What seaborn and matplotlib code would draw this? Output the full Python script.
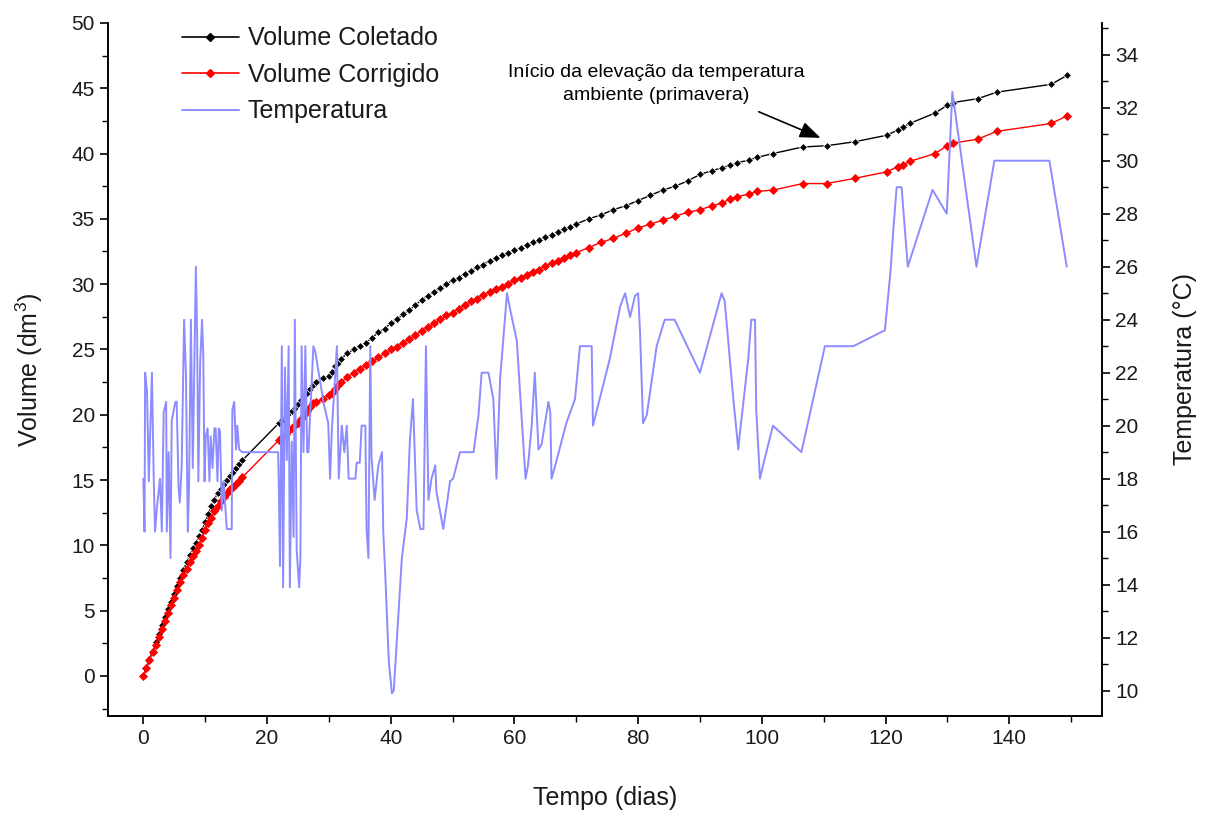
import matplotlib
matplotlib.use("Agg")
import matplotlib.pyplot as plt
from matplotlib.ticker import MultipleLocator
from matplotlib.lines import Line2D
import seaborn as sns
import numpy as np

# ---------------- data ----------------
vol_days = [0, 0.5, 1, 1.5, 2, 2.5, 3, 3.5, 4, 4.5, 5, 5.5, 6, 6.5, 7, 7.5, 8, 8.5, 9, 9.5,
            10, 10.5, 11, 11.5, 12, 12.5, 13, 13.5, 14, 14.5, 15, 15.5, 16,
            22, 22.5, 23, 23.5, 24, 24.5, 25, 25.5, 26, 26.5, 27, 27.5, 28, 29, 30, 30.5, 31, 31.5,
            32, 33, 34, 35, 36, 37, 38, 39, 40, 41, 42, 43, 44, 45, 46, 47, 48, 49, 50,
            51, 52, 53, 54, 55, 56, 57, 58, 59, 60, 61, 62, 63, 64, 65, 66, 67, 68, 69, 70,
            72, 74, 76, 78, 80, 82, 84, 86, 88, 90, 92, 93.5, 94.8, 96, 98, 99.2, 101.8,
            106.6, 110.5, 115, 120.2, 122, 122.8, 123.9, 128, 130, 130.9, 134.9, 138, 146.8, 149.4]

vol_coletado = [0, 0.6, 1.3, 1.9, 2.6, 3.2, 3.9, 4.5, 5.1, 5.7, 6.3, 6.9, 7.5, 8.1, 8.7, 9.3, 9.8, 10.2, 10.7, 11.2,
                11.8, 12.4, 13.0, 13.5, 14.0, 14.3, 14.7, 15.0, 15.3, 15.6, 15.9, 16.2, 16.5,
                19.4, 19.6, 19.8, 20.1, 20.3, 20.5, 20.8, 21.1, 21.4, 21.7, 22.0, 22.3, 22.5, 22.8, 23.0, 23.3, 23.7, 24.0,
                24.3, 24.7, 25.0, 25.3, 25.5, 25.9, 26.3, 26.6, 27.0, 27.3, 27.7, 28.0, 28.4, 28.8, 29.1, 29.4, 29.7, 30.0, 30.3,
                30.5, 30.8, 31.0, 31.3, 31.5, 31.8, 32.0, 32.2, 32.4, 32.6, 32.8, 33.0, 33.2, 33.4, 33.6, 33.8, 34.0, 34.2, 34.4, 34.6,
                35.0, 35.3, 35.7, 36.0, 36.4, 36.8, 37.2, 37.5, 37.9, 38.4, 38.7, 38.9, 39.1, 39.3, 39.5, 39.7, 40.0,
                40.5, 40.6, 40.9, 41.4, 41.8, 42.0, 42.3, 43.1, 43.7, 43.9, 44.2, 44.7, 45.3, 46.0]

vol_corrigido = [0, 0.6, 1.2, 1.8, 2.4, 3.0, 3.6, 4.2, 4.8, 5.4, 6.0, 6.6, 7.2, 7.7, 8.2, 8.7, 9.2, 9.6, 10.0, 10.6,
                 11.2, 11.7, 12.1, 12.6, 13.0, 13.4, 13.7, 14.0, 14.3, 14.5, 14.7, 14.95, 15.2,
                 18.1, 18.3, 18.5, 18.8, 19.0, 19.2, 19.4, 19.7, 20.0, 20.3, 20.6, 20.9, 21.0, 21.2, 21.5, 21.7, 22.0, 22.3,
                 22.5, 22.9, 23.2, 23.5, 23.8, 24.1, 24.4, 24.7, 25.0, 25.2, 25.5, 25.8, 26.1, 26.4, 26.7, 27.0, 27.3, 27.6, 27.8,
                 28.1, 28.4, 28.7, 28.9, 29.2, 29.4, 29.6, 29.8, 30.0, 30.3, 30.5, 30.7, 30.9, 31.1, 31.4, 31.6, 31.8, 32.0, 32.2, 32.4,
                 32.8, 33.2, 33.5, 33.9, 34.3, 34.6, 34.9, 35.2, 35.5, 35.7, 36.0, 36.2, 36.5, 36.7, 36.9, 37.1, 37.2,
                 37.7, 37.7, 38.1, 38.6, 39.0, 39.1, 39.4, 40.0, 40.6, 40.8, 41.1, 41.7, 42.3, 42.9]

temp_days = [0.0, 0.1, 0.2, 0.3, 0.6, 0.9, 1.4, 1.7, 1.9, 2.2, 2.7, 3.0, 3.3, 3.7, 3.8, 4.1, 4.4, 4.6, 5.2, 5.4,
             5.7, 5.9, 6.2, 6.6, 6.9, 7.2, 7.4, 7.7, 8.0, 8.5, 8.7, 8.9, 9.2, 9.5, 9.7, 9.9, 10.1, 10.4, 10.7, 10.9,
             11.2, 11.5, 11.7, 12.0, 12.2, 12.4, 12.7, 13.0, 13.5, 14.3, 14.4, 14.7, 15.0, 15.2, 15.5, 16.0,
             21.8, 21.9, 22.1, 22.4, 22.6, 22.9, 23.2, 23.5, 23.7, 24.0, 24.3, 24.5, 24.8, 25.2, 25.4, 25.6, 25.9,
             26.2, 26.5, 26.7, 27.5, 27.8, 28.5, 29.2, 29.9, 30.2, 30.5, 31.3, 31.6, 32.1, 32.5, 32.9, 33.2, 34.3,
             34.5, 35.0, 35.3, 35.9, 36.1, 36.4, 36.7, 36.9, 37.4, 38.0, 38.6, 38.8, 39.1, 39.7, 40.2, 40.5, 41.0,
             41.8, 42.6, 43.1, 43.6, 44.2, 44.8, 45.3, 45.7, 46.1, 46.6, 47.2, 47.4, 48.5, 49.6, 50.1, 51.2, 53.4,
             54.2, 54.7, 55.8, 56.6, 57.1, 57.7, 58.8, 59.3, 60.4, 60.9, 61.8, 62.2, 62.8, 63.3, 63.9, 64.4, 65.5,
             65.8, 66.0, 66.6, 68.4, 69.8, 70.6, 72.5, 72.7, 75.4, 77.1, 77.9, 78.7, 79.5, 80.0, 80.3, 80.8, 81.4,
             83.0, 84.3, 85.9, 90.0, 93.5, 94.0, 95.4, 96.2, 96.4, 97.8, 98.3, 98.9, 99.1, 99.7, 100.2, 101.8,
             106.4, 110.2, 114.8, 119.9, 120.8, 121.3, 121.8, 122.6, 123.6, 127.6, 129.9, 130.3, 130.8, 131.4,
             134.7, 137.6, 146.5, 149.3]

temp_vals = [18.0, 17.1, 16.0, 22.0, 21.3, 17.9, 22.0, 17.9, 16.0, 16.9, 18.0, 16.0, 20.5, 20.9, 16.0, 19.0, 15.0, 20.2, 20.9, 20.9,
             17.7, 17.1, 18.4, 24.0, 21.9, 16.0, 17.7, 24.0, 18.4, 26.0, 23.5, 17.9, 22.4, 24.0, 22.7, 17.9, 19.6, 19.9, 17.9, 19.6,
             18.4, 19.9, 19.9, 17.9, 19.9, 19.8, 16.8, 17.9, 16.1, 16.1, 20.6, 20.9, 19.1, 20.0, 19.1, 19.0,
             19.0, 17.9, 14.7, 23.0, 13.9, 22.2, 18.7, 23.0, 13.9, 19.4, 15.8, 24.0, 15.3, 13.9, 15.0, 23.0, 19.0,
             23.0, 19.0, 19.0, 23.0, 22.8, 21.8, 20.8, 20.1, 18.0, 19.9, 23.0, 18.0, 20.0, 19.0, 20.0, 18.0, 18.0,
             18.6, 18.6, 20.0, 20.0, 16.1, 15.0, 23.0, 18.8, 17.2, 18.5, 19.0, 16.0, 14.5, 11.1, 9.9, 10.0, 11.9,
             15.0, 16.5, 19.4, 21.0, 16.8, 16.1, 16.1, 23.0, 17.2, 18.0, 18.5, 17.5, 16.1, 17.9, 18.0, 19.0, 19.0,
             20.4, 22.0, 22.0, 21.0, 18.0, 21.8, 25.0, 24.4, 23.2, 21.3, 18.0, 18.5, 20.0, 22.0, 19.1, 19.3, 20.9,
             20.5, 18.0, 18.5, 20.1, 21.0, 23.0, 23.0, 20.0, 22.5, 24.5, 25.0, 24.1, 24.9, 25.0, 23.6, 20.1, 20.4,
             23.0, 24.0, 24.0, 22.0, 25.0, 24.7, 21.0, 19.1, 19.6, 22.5, 24.0, 24.0, 20.6, 18.0, 18.5, 20.0,
             19.0, 23.0, 23.0, 23.6, 25.8, 27.5, 29.0, 29.0, 26.0, 28.9, 28.0, 30.0, 32.6, 31.6,
             26.0, 30.0, 30.0, 26.0]

series_labels = ["Volume Coletado", "Volume Corrigido", "Temperatura"]

assert len(vol_days) == len(vol_coletado) == len(vol_corrigido)
assert len(temp_days) == len(temp_vals)

# ---------------- style ----------------
sns.set_theme(style="ticks")
plt.rcParams["font.family"] = ["Liberation Sans", "DejaVu Sans"]
plt.rcParams["mathtext.fontset"] = "custom"
plt.rcParams["mathtext.rm"] = "Liberation Sans"
plt.rcParams["mathtext.it"] = "Liberation Sans:italic"

TEXT = "#1a1a1a"
BLUE = "#8c8cff"

fig = plt.figure(figsize=(12.07, 8.19), dpi=100)
ax = fig.add_axes([0.0895, 0.126, 0.8235, 0.846])

sns.lineplot(x=vol_days, y=vol_coletado, ax=ax, color="black", lw=1.0,
             marker="D", markersize=3.6, markeredgewidth=0.6, estimator=None,
             legend=False, sort=False)
sns.lineplot(x=vol_days, y=vol_corrigido, ax=ax, color="#ff0000", lw=1.0,
             marker="D", markersize=3.6, markeredgewidth=0.6, markeredgecolor="#ff0000",
             estimator=None, legend=False, sort=False)

ax2 = ax.twinx()
sns.lineplot(x=temp_days, y=temp_vals, ax=ax2, color=BLUE, lw=1.4,
             estimator=None, legend=False, sort=False)

# ---------------- axes ----------------
ax.set_xlim(-5.7, 155)
ax.set_ylim(-3.05, 50)
ax2.set_ylim(9.05, 35.2)

ax.set_xticks(range(0, 141, 20))
ax.xaxis.set_minor_locator(MultipleLocator(10))
ax.set_yticks(range(0, 51, 5))
ax.yaxis.set_minor_locator(MultipleLocator(2.5))
ax2.set_yticks(range(10, 35, 2))
ax2.yaxis.set_minor_locator(MultipleLocator(1))

for a in (ax, ax2):
    a.spines["top"].set_visible(False)
    for s in a.spines.values():
        s.set_color("black")
        s.set_linewidth(1.2)
    a.tick_params(which="major", direction="out", length=6, width=1.2,
                  labelsize=15, labelcolor=TEXT, color="black")
    a.tick_params(which="minor", direction="out", length=4, width=1.0, color="black")
    a.grid(False)

ax.set_xlabel("Tempo (dias)", fontsize=18, color=TEXT, labelpad=27)
ax.set_ylabel("Volume (dm$^3$)", fontsize=18, color=TEXT, labelpad=19)
ax2.set_ylabel("Temperatura (°C)", fontsize=18, color=TEXT, labelpad=25)

# ---------------- annotation ----------------
ax.text(83, 45.3, "Início da elevação da temperatura\nambiente (primavera)",
        ha="center", va="center", fontsize=14, color="black", linespacing=1.45)
ax.annotate("", xy=(109.5, 41.2), xytext=(99.5, 43.2),
            arrowprops=dict(arrowstyle="-|>,head_length=0.9,head_width=0.35",
                            color="black", lw=1.2, mutation_scale=14,
                            shrinkA=0, shrinkB=0))

# ---------------- legend ----------------
handles = [
    Line2D([], [], color="black", lw=1.2, marker="D", markersize=3.6),
    Line2D([], [], color="#ff0000", lw=1.2, marker="D", markersize=3.6),
    Line2D([], [], color=BLUE, lw=1.4),
]
leg = ax2.legend(handles, series_labels, loc="upper left", bbox_to_anchor=(0.074, 0.995),
                 frameon=False, fontsize=18, handlelength=2.3, handletextpad=0.35,
                 labelspacing=0.5, borderpad=0, borderaxespad=0)
for t in leg.get_texts():
    t.set_color(TEXT)

fig.savefig("out.png", dpi=100)
